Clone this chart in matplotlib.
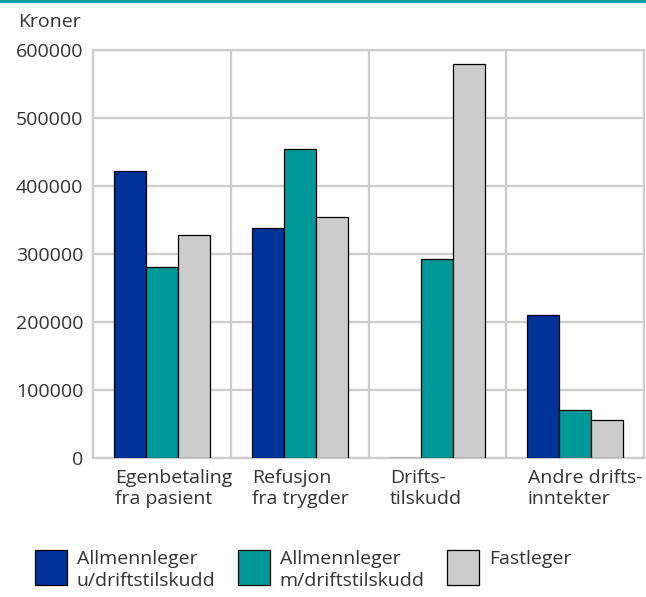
import matplotlib
matplotlib.use("Agg")
import matplotlib.pyplot as plt
import numpy as np
from matplotlib.lines import Line2D

plt.rcParams['font.family'] = ['Open Sans', 'DejaVu Sans']

categories = ["Egenbetaling\nfra pasient", "Refusjon\nfra trygder", "Drifts-\ntilskudd", "Andre drifts-\ninntekter"]
series_names = ["Allmennleger\nu/driftstilskudd", "Allmennleger\nm/driftstilskudd", "Fastleger"]
u_drift = [422000, 338000, 0, 210000]
m_drift = [281000, 454000, 292000, 70000]
fastleger = [328000, 355000, 579000, 56000]
yticks = [0, 100000, 200000, 300000, 400000, 500000, 600000]

colors = ["#003399", "#009999", "#cccccc"]
text_color = "#333333"
grid_color = "#cccccc"
FS = 14

fig = plt.figure(figsize=(6.46, 5.97), dpi=100)
ax = fig.add_axes([93/646, 1-458/597, (644-93)/646, (458-50)/597])

x = np.arange(len(categories))
w = 0.232
for i, (vals, c, name) in enumerate(zip([u_drift, m_drift, fastleger], colors, series_names)):
    ax.bar(x + (i - 1) * w, vals, width=w, color=c, edgecolor="black", linewidth=0.9,
           label=name, zorder=3)

ax.set_xlim(-0.5, len(categories) - 0.5)
ax.set_ylim(0, 600000)
ax.set_yticks(yticks)
ax.set_yticklabels([str(v) for v in yticks], fontsize=FS, color=text_color)
ax.tick_params(axis='y', length=0, pad=7)

# vertical separators between groups
ax.set_xticks(np.arange(len(categories) + 1) - 0.5, minor=True)
ax.grid(which='minor', axis='x', color=grid_color, linewidth=1.6, zorder=0)
ax.grid(which='major', axis='y', color=grid_color, linewidth=1.6, zorder=0)
ax.tick_params(axis='x', which='minor', length=0)

ax.set_xticks(x - 1.5 * w + 0.005)
ax.set_xticklabels(categories, fontsize=FS, color=text_color, ha='left', linespacing=1.2)
ax.tick_params(axis='x', which='major', length=0, pad=8)

for s in ax.spines.values():
    s.set_color(grid_color)
    s.set_linewidth(1.6)

fig.text(18/646, 1-22/597, "Kroner", fontsize=FS, color=text_color, va='center', ha='left')

# top teal rule
fig.add_artist(Line2D([0, 1], [1 - 1/597, 1 - 1/597], color="#009999", linewidth=2,
                      transform=fig.transFigure))

leg = fig.legend(loc='upper left', bbox_to_anchor=(35/646, 1-550/597), ncol=3,
                 frameon=False, fontsize=FS, handlelength=1.65, handleheight=2.39,
                 handletextpad=0.5, columnspacing=1.15, labelcolor=text_color,
                 borderaxespad=0, borderpad=0)
for t in leg.get_texts():
    t.set_linespacing(1.3)
try:
    leg._legend_handle_box.align = "top"
    for col in leg._legend_handle_box.get_children():
        col.align = "left"
        for row in col.get_children():
            row.align = "top"
except Exception:
    pass

fig.savefig("out.png", dpi=100)
